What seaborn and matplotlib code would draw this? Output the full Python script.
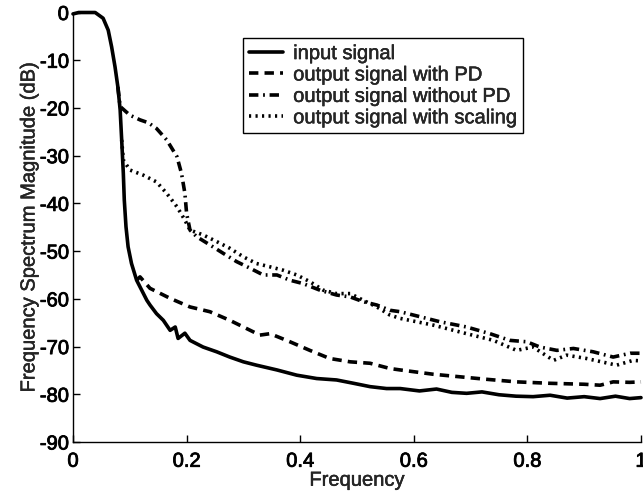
import matplotlib
matplotlib.use("Agg")
import matplotlib.pyplot as plt
import matplotlib.patheffects as pe
import seaborn as sns
import pandas as pd

# Normalised frequency / magnitude (dB) samples for each spectrum
input_freq = [0.0, 0.010, 0.039, 0.053, 0.062, 0.068, 0.074, 0.079, 0.083, 0.0857,
              0.0886, 0.0903, 0.0933, 0.097, 0.103, 0.112, 0.121, 0.130, 0.1356,
              0.147, 0.159, 0.171, 0.180, 0.185, 0.197, 0.206, 0.229, 0.253, 0.276,
              0.300, 0.323, 0.359, 0.394, 0.429, 0.464, 0.494, 0.523, 0.552, 0.576,
              0.61, 0.64, 0.667, 0.693, 0.72, 0.75, 0.78, 0.81, 0.84, 0.87, 0.90,
              0.928, 0.955, 0.98, 1.0]
input_mag = [-0.3, 0.0, 0.0, -1.2, -3.7, -7.2, -11.4, -15.6, -20.4, -26.7,
             -33.7, -39.3, -44.9, -49.1, -52.6, -56.1, -58.2, -60.3, -61.3,
             -63.1, -64.5, -66.6, -65.9, -68.3, -67.2, -68.7, -70.1, -71.1, -72.2,
             -73.2, -73.9, -74.9, -76.0, -76.7, -77.0, -77.7, -78.4, -78.8, -78.8,
             -79.3, -78.9, -79.6, -79.8, -79.5, -80.1, -80.4, -80.5, -80.2, -80.8,
             -80.5, -80.9, -80.4, -80.9, -80.7]

pd_freq = [0.112, 0.118, 0.1356, 0.171, 0.206, 0.241, 0.276, 0.312, 0.329, 0.347,
           0.382, 0.417, 0.452, 0.488, 0.523, 0.558, 0.576, 0.634, 0.722, 0.781,
           0.84, 0.90, 0.928, 0.951, 0.98, 1.0]
pd_mag = [-56.1, -55.4, -57.8, -59.9, -61.7, -62.7, -64.5, -66.6, -67.6, -67.3,
          -69.0, -70.8, -72.5, -73.2, -73.5, -74.6, -74.9, -75.8, -76.8, -77.4,
          -77.7, -77.9, -78.1, -77.4, -77.5, -77.4]

nopd_freq = [0.079, 0.083, 0.100, 0.118, 0.1326, 0.147, 0.165, 0.183, 0.191, 0.197,
             0.200, 0.206, 0.218, 0.241, 0.265, 0.288, 0.312, 0.335, 0.359, 0.382,
             0.405, 0.435, 0.464, 0.488, 0.511, 0.535, 0.558, 0.576, 0.646, 0.693,
             0.734, 0.769, 0.799, 0.822, 0.852, 0.881, 0.916, 0.951, 0.981, 1.0]
nopd_mag = [-15.6, -19.7, -21.5, -22.5, -23.1, -24.3, -26.7, -30.2, -33.7, -37.9,
            -42.1, -45.6, -47.0, -48.7, -50.5, -52.2, -53.6, -55.0, -55.0, -56.1,
            -56.8, -58.2, -59.2, -59.6, -60.6, -61.3, -62.4, -62.7, -64.8, -65.9,
            -67.3, -68.7, -69.0, -70.1, -70.8, -70.4, -71.1, -72.2, -71.4, -71.4]

scal_freq = [0.0857, 0.0886, 0.100, 0.124, 0.147, 0.165, 0.183, 0.197, 0.206, 0.229,
             0.253, 0.276, 0.300, 0.323, 0.347, 0.370, 0.394, 0.417, 0.441, 0.464,
             0.488, 0.511, 0.535, 0.558, 0.576, 0.634, 0.693, 0.74, 0.781, 0.81,
             0.846, 0.869, 0.904, 0.957, 0.986, 1.0]
scal_mag = [-26.7, -30.9, -33.0, -34.1, -35.5, -37.9, -40.7, -43.5, -45.6, -46.6,
            -48.0, -49.4, -51.2, -52.6, -53.3, -54.0, -55.0, -56.4, -58.2, -58.9,
            -58.9, -60.3, -61.7, -63.4, -64.1, -65.5, -67.3, -68.7, -70.8, -70.1,
            -72.9, -71.8, -72.5, -73.9, -72.9, -73.0]

labels = ["input signal", "output signal with PD",
          "output signal without PD", "output signal with scaling"]
x_ticks = [0, 0.2, 0.4, 0.6, 0.8, 1]
x_tick_labels = ["0", "0.2", "0.4", "0.6", "0.8", "1"]
y_ticks = [0, -10, -20, -30, -40, -50, -60, -70, -80, -90]

sns.set_theme(style="ticks")
plt.rcParams["font.family"] = ["Liberation Sans", "DejaVu Sans"]
plt.rcParams["axes.unicode_minus"] = False

fs = 14.5
fig = plt.figure(figsize=(6.43, 4.92), dpi=100)
ax = fig.add_axes([73 / 643, 1 - 442 / 492, 568 / 643, 429.5 / 492])

series = [
    (input_freq, input_mag, "-"),
    (pd_freq, pd_mag, (0, (2.6, 1.7))),
    (nopd_freq, nopd_mag, (0, (2.6, 1.3, 0.5, 1.3))),
    (scal_freq, scal_mag, (0, (0.6, 1.2))),
]
lw = 2.6
for (fx, fy, ls), lab in zip(series, labels):
    df = pd.DataFrame({"Frequency": fx, "Magnitude": fy})
    sns.lineplot(data=df, x="Frequency", y="Magnitude", ax=ax, color="black",
                 linewidth=lw, linestyle=ls, label=lab, sort=False,
                 estimator=None, clip_on=False)

ax.set_xlim(0, 1)
ax.set_ylim(-90, 0)
ax.set_xticks(x_ticks)
ax.set_xticklabels(x_tick_labels)
ax.set_yticks(y_ticks)
ax.tick_params(direction="in", length=5, width=1, labelsize=fs, colors="black",
               pad=3)
ax.tick_params(axis="x", pad=7)
ax.set_xlabel("Frequency", fontsize=fs, labelpad=0)
ax.set_ylabel("Frequency Spectrum Magnitude (dB)", fontsize=fs, labelpad=1)
for s in ["top", "right"]:
    ax.spines[s].set_visible(False)
for s in ["left", "bottom"]:
    ax.spines[s].set_color("black")
    ax.spines[s].set_linewidth(1.0)

leg = ax.legend(loc="upper left", bbox_to_anchor=(0.299, 0.9406), fontsize=fs,
                frameon=True, fancybox=False, framealpha=1, edgecolor="black",
                handlelength=1.7, handletextpad=0.5, labelspacing=0.12,
                borderpad=0.3, borderaxespad=0)
leg.get_frame().set_linewidth(1.0)

# Slightly heavier glyphs, like the print-style typeface of the figure
heavy_ticks = [pe.withStroke(linewidth=0.6, foreground="black")]
heavy_text = [pe.withStroke(linewidth=0.3, foreground="black")]
for t in ax.get_xticklabels() + ax.get_yticklabels():
    t.set_path_effects(heavy_ticks)
for t in [ax.xaxis.label, ax.yaxis.label] + leg.get_texts():
    t.set_path_effects(heavy_text)

fig.savefig("out.png", dpi=100)
